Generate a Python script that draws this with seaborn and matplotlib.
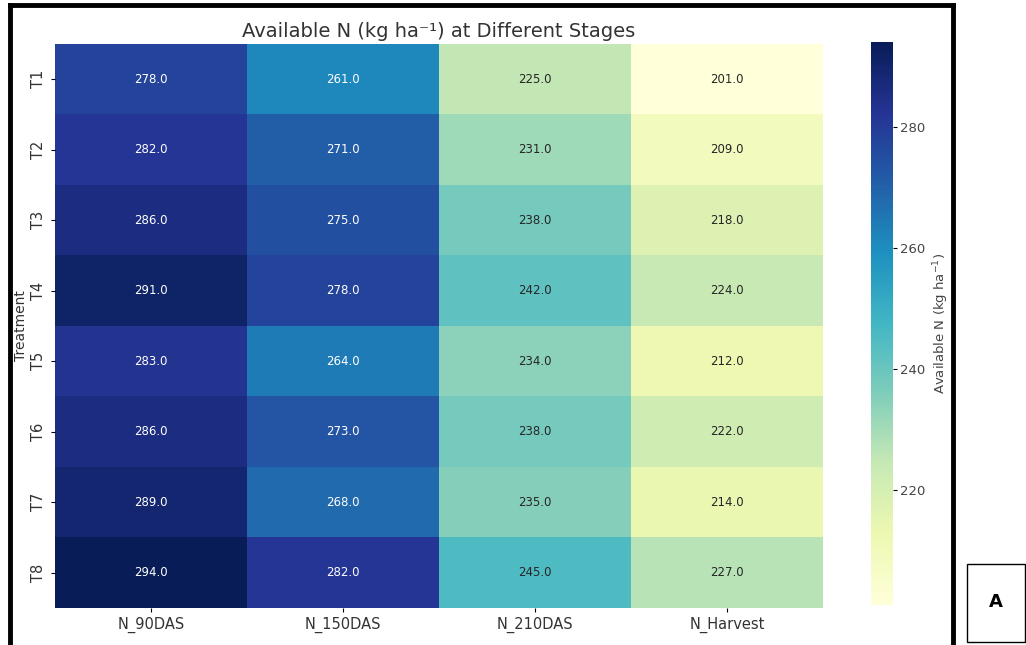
import pandas as pd
import numpy as np
import seaborn as sns
import matplotlib.pyplot as plt
from matplotlib.patches import Rectangle
from matplotlib.lines import Line2D

treatments = ['T1', 'T2', 'T3', 'T4', 'T5', 'T6', 'T7', 'T8']
stages = ['N_90DAS', 'N_150DAS', 'N_210DAS', 'N_Harvest']
n_90das = [278, 282, 286, 291, 283, 286, 289, 294]
n_150das = [261, 271, 275, 278, 264, 273, 268, 282]
n_210das = [225, 231, 238, 242, 234, 238, 235, 245]
n_harvest = [201, 209, 218, 224, 212, 222, 214, 227]

data = pd.DataFrame(
    {'N_90DAS': n_90das, 'N_150DAS': n_150das, 'N_210DAS': n_210das, 'N_Harvest': n_harvest},
    index=treatments
)

fig = plt.figure(figsize=(10.26, 6.45), dpi=100)
ax = fig.add_axes([0.0536, 0.0574, 0.7485, 0.8744])
cax = fig.add_axes([0.849, 0.062, 0.0214, 0.873])

sns.heatmap(
    data, annot=True, fmt='.1f', cmap='YlGnBu', ax=ax, cbar_ax=cax,
    annot_kws={'fontsize': 8.5},
    cbar_kws={'label': 'Available N (kg ha$^{-1}$)'}
)
ax.set_title('Available N (kg ha⁻¹) at Different Stages', fontsize=14, color='#333333', pad=5)
ax.set_ylabel('Treatment', fontsize=10, labelpad=2, color='#333333')
ax.set_xlabel('')
ax.tick_params(axis='x', labelsize=10.5, length=3, labelcolor='#333333')
ax.tick_params(axis='y', labelsize=10.5, length=3, labelcolor='#333333')
cax.tick_params(labelsize=9.5, length=3, pad=2, labelcolor='#444444')
cax.yaxis.label.set_size(9.5)
cax.yaxis.label.set_color('#444444')
cax.set_yticks([220, 240, 260, 280])

# black frame of the screenshot
frame_kw = dict(color='black', lw=3.5, transform=fig.transFigure)
fig.add_artist(Line2D([0.0097, 0.9285], [0.9915, 0.9915], **frame_kw))
fig.add_artist(Line2D([0.0097, 0.0097], [0.0, 0.9915], **frame_kw))
fig.add_artist(Line2D([0.9285, 0.9285], [0.0, 0.9915], **frame_kw))

# panel letter box
fig.add_artist(Rectangle((0.9425, 0.005), 0.0565, 0.121, transform=fig.transFigure,
                         fill=False, edgecolor='black', lw=1))
fig.text(0.9707, 0.066, 'A', fontsize=13, fontweight='bold', ha='center', va='center')

plt.savefig('out.png', dpi=100)
